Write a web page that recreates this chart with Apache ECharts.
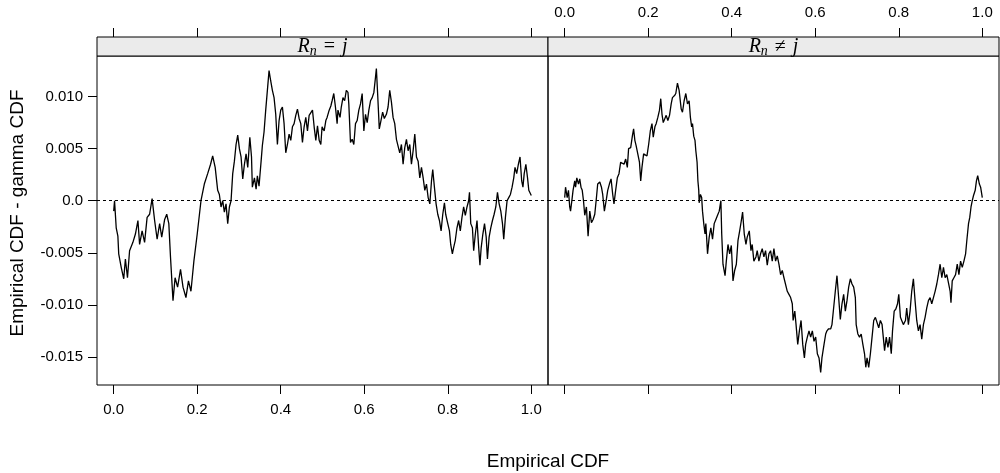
<!DOCTYPE html>
<html>
<head>
<meta charset="utf-8">
<script src="https://cdn.jsdelivr.net/npm/echarts@6/dist/echarts.min.js"></script>
<style>
    html, body {margin: 0; padding: 0; background: #fff;}
    #chart {width: 1000px; height: 473px;}
</style>
</head>
<body>
<div id="chart"></div>
<script>
// panel R_n = j
const eqX = [0.000, 0.002, 0.006, 0.010, 0.012, 0.018, 0.024, 0.028, 0.033, 0.038, 0.046, 0.052, 0.058, 0.062, 0.068,
    0.074, 0.080, 0.086, 0.092, 0.098, 0.104, 0.110, 0.115, 0.122, 0.127, 0.132, 0.136, 0.142, 0.147, 0.153, 0.160,
    0.166, 0.173, 0.179, 0.185, 0.192, 0.200, 0.209, 0.217, 0.225, 0.232, 0.237, 0.243, 0.249, 0.253, 0.257, 0.261,
    0.265, 0.269, 0.273, 0.277, 0.281, 0.285, 0.289, 0.293, 0.297, 0.301, 0.305, 0.309, 0.313, 0.317, 0.321, 0.326,
    0.330, 0.332, 0.337, 0.341, 0.344, 0.348, 0.353, 0.356, 0.360, 0.364, 0.368, 0.372, 0.376, 0.380, 0.384, 0.388,
    0.392, 0.396, 0.400, 0.404, 0.408, 0.412, 0.416, 0.420, 0.424, 0.428, 0.432, 0.436, 0.440, 0.444, 0.448, 0.452,
    0.456, 0.460, 0.464, 0.468, 0.472, 0.476, 0.480, 0.484, 0.488, 0.492, 0.496, 0.499, 0.504, 0.508, 0.511, 0.516,
    0.520, 0.523, 0.527, 0.531, 0.535, 0.537, 0.542, 0.545, 0.549, 0.553, 0.557, 0.561, 0.563, 0.567, 0.571, 0.575,
    0.579, 0.583, 0.587, 0.591, 0.595, 0.599, 0.603, 0.607, 0.611, 0.615, 0.619, 0.623, 0.627, 0.629, 0.632, 0.636,
    0.640, 0.644, 0.648, 0.653, 0.657, 0.661, 0.665, 0.669, 0.673, 0.677, 0.681, 0.685, 0.689, 0.693, 0.697, 0.701,
    0.705, 0.709, 0.713, 0.717, 0.721, 0.725, 0.729, 0.733, 0.737, 0.741, 0.745, 0.749, 0.753, 0.757, 0.761, 0.764,
    0.768, 0.772, 0.776, 0.780, 0.784, 0.788, 0.792, 0.795, 0.800, 0.804, 0.807, 0.811, 0.814, 0.818, 0.822, 0.826,
    0.830, 0.834, 0.838, 0.842, 0.846, 0.850, 0.852, 0.855, 0.859, 0.862, 0.866, 0.870, 0.874, 0.877, 0.880, 0.884,
    0.888, 0.892, 0.895, 0.899, 0.903, 0.907, 0.911, 0.915, 0.919, 0.923, 0.927, 0.931, 0.934, 0.938, 0.942, 0.946,
    0.950, 0.954, 0.958, 0.961, 0.965, 0.969, 0.973, 0.977, 0.980, 0.983, 0.987, 0.991, 0.994, 1.000];
const eqY = [-0.0010, 0.0000, -0.0026, -0.0034, -0.0051, -0.0064, -0.0075, -0.0056, -0.0074, -0.0048, -0.0040, -0.0032,
    -0.0019, -0.0042, -0.0029, -0.0040, -0.0016, -0.0013, 0.0002, -0.0019, -0.0037, -0.0022, -0.0035, -0.0018, -0.0013,
    -0.0022, -0.0054, -0.0096, -0.0074, -0.0083, -0.0066, -0.0083, -0.0093, -0.0077, -0.0087, -0.0058, -0.0032, 0.0000,
    0.0016, 0.0026, 0.0035, 0.0043, 0.0032, 0.0010, 0.0006, -0.0006, 0.0000, -0.0011, -0.0003, -0.0022, -0.0006, 0.0000,
    0.0026, 0.0038, 0.0054, 0.0063, 0.0050, 0.0042, 0.0021, 0.0035, 0.0045, 0.0032, 0.0061, 0.0042, 0.0013, 0.0022,
    0.0011, 0.0024, 0.0014, 0.0038, 0.0053, 0.0066, 0.0087, 0.0106, 0.0125, 0.0115, 0.0106, 0.0099, 0.0083, 0.0054,
    0.0077, 0.0087, 0.0090, 0.0074, 0.0046, 0.0054, 0.0064, 0.0058, 0.0071, 0.0074, 0.0082, 0.0088, 0.0079, 0.0074,
    0.0056, 0.0071, 0.0080, 0.0067, 0.0082, 0.0083, 0.0087, 0.0071, 0.0058, 0.0072, 0.0058, 0.0054, 0.0071, 0.0067,
    0.0077, 0.0080, 0.0087, 0.0091, 0.0096, 0.0103, 0.0090, 0.0074, 0.0087, 0.0080, 0.0090, 0.0099, 0.0096, 0.0106,
    0.0104, 0.0093, 0.0056, 0.0059, 0.0054, 0.0074, 0.0077, 0.0087, 0.0093, 0.0103, 0.0067, 0.0083, 0.0075, 0.0087,
    0.0096, 0.0099, 0.0104, 0.0119, 0.0127, 0.0103, 0.0069, 0.0077, 0.0085, 0.0079, 0.0083, 0.0090, 0.0106, 0.0095,
    0.0080, 0.0074, 0.0059, 0.0058, 0.0046, 0.0054, 0.0035, 0.0051, 0.0059, 0.0048, 0.0054, 0.0035, 0.0048, 0.0064,
    0.0042, 0.0038, 0.0022, 0.0032, 0.0022, 0.0010, 0.0016, 0.0003, -0.0003, 0.0019, 0.0030, 0.0013, -0.0003, -0.0013,
    -0.0019, -0.0029, -0.0013, -0.0002, -0.0013, -0.0022, -0.0029, -0.0042, -0.0051, -0.0045, -0.0038, -0.0026, -0.0019,
    -0.0029, -0.0016, -0.0006, -0.0014, -0.0006, 0.0000, 0.0008, -0.0022, -0.0026, -0.0048, -0.0032, -0.0019, -0.0045,
    -0.0062, -0.0045, -0.0032, -0.0022, -0.0035, -0.0056, -0.0035, -0.0026, -0.0019, -0.0013, -0.0006, 0.0008, -0.0003,
    -0.0010, -0.0022, -0.0037, -0.0016, 0.0000, 0.0003, 0.0006, 0.0013, 0.0022, 0.0032, 0.0026, 0.0035, 0.0042, 0.0019,
    0.0013, 0.0026, 0.0035, 0.0022, 0.0010, 0.0005];

// panel R_n != j
const neqX = [0.000, 0.002, 0.006, 0.009, 0.012, 0.014, 0.018, 0.020, 0.024, 0.026, 0.029, 0.033, 0.036, 0.039, 0.042,
    0.045, 0.048, 0.052, 0.056, 0.060, 0.064, 0.068, 0.072, 0.076, 0.079, 0.084, 0.088, 0.091, 0.095, 0.100, 0.103,
    0.107, 0.111, 0.115, 0.118, 0.122, 0.126, 0.130, 0.134, 0.138, 0.142, 0.146, 0.150, 0.153, 0.158, 0.162, 0.165,
    0.168, 0.171, 0.175, 0.179, 0.182, 0.185, 0.189, 0.193, 0.197, 0.201, 0.205, 0.209, 0.212, 0.216, 0.219, 0.223,
    0.227, 0.230, 0.233, 0.236, 0.239, 0.243, 0.247, 0.251, 0.255, 0.258, 0.263, 0.266, 0.270, 0.274, 0.279, 0.282,
    0.286, 0.290, 0.294, 0.298, 0.301, 0.304, 0.306, 0.309, 0.312, 0.314, 0.317, 0.319, 0.321, 0.322, 0.325, 0.328,
    0.330, 0.333, 0.336, 0.338, 0.342, 0.346, 0.350, 0.354, 0.358, 0.362, 0.366, 0.370, 0.374, 0.376, 0.379, 0.384,
    0.387, 0.391, 0.395, 0.399, 0.403, 0.407, 0.411, 0.415, 0.419, 0.423, 0.426, 0.430, 0.434, 0.437, 0.442, 0.446,
    0.449, 0.453, 0.458, 0.461, 0.465, 0.469, 0.473, 0.477, 0.481, 0.485, 0.489, 0.493, 0.497, 0.501, 0.505, 0.509,
    0.513, 0.517, 0.521, 0.525, 0.529, 0.533, 0.537, 0.541, 0.545, 0.547, 0.551, 0.554, 0.558, 0.562, 0.566, 0.570,
    0.574, 0.577, 0.581, 0.585, 0.589, 0.593, 0.597, 0.601, 0.605, 0.609, 0.613, 0.616, 0.621, 0.625, 0.628, 0.632,
    0.637, 0.640, 0.644, 0.648, 0.652, 0.656, 0.660, 0.664, 0.668, 0.672, 0.676, 0.680, 0.684, 0.688, 0.692, 0.696,
    0.698, 0.702, 0.706, 0.710, 0.714, 0.718, 0.721, 0.724, 0.728, 0.732, 0.736, 0.740, 0.744, 0.748, 0.752, 0.756,
    0.760, 0.764, 0.766, 0.770, 0.774, 0.778, 0.782, 0.785, 0.789, 0.793, 0.797, 0.800, 0.804, 0.807, 0.811, 0.816,
    0.819, 0.823, 0.827, 0.831, 0.835, 0.839, 0.843, 0.847, 0.851, 0.855, 0.859, 0.863, 0.867, 0.871, 0.875, 0.879,
    0.883, 0.887, 0.891, 0.895, 0.899, 0.903, 0.907, 0.911, 0.915, 0.919, 0.923, 0.925, 0.928, 0.932, 0.936, 0.940,
    0.944, 0.948, 0.952, 0.956, 0.960, 0.963, 0.967, 0.970, 0.973, 0.976, 0.979, 0.983, 0.986, 0.989, 0.993, 0.996,
    1.000];
const neqY = [0.0003, 0.0013, 0.0003, 0.0010, -0.0006, -0.0010, 0.0003, 0.0010, 0.0019, 0.0013, 0.0022, 0.0016, 0.0021,
    0.0013, 0.0010, 0.0000, -0.0014, -0.0006, -0.0034, -0.0010, -0.0021, -0.0018, -0.0013, 0.0003, 0.0016, 0.0018,
    0.0013, 0.0006, -0.0010, 0.0002, 0.0010, 0.0016, 0.0021, 0.0006, -0.0003, 0.0010, 0.0022, 0.0026, 0.0037, 0.0038,
    0.0035, 0.0040, 0.0032, 0.0050, 0.0051, 0.0062, 0.0069, 0.0058, 0.0053, 0.0045, 0.0037, 0.0019, 0.0032, 0.0045,
    0.0046, 0.0043, 0.0054, 0.0067, 0.0074, 0.0061, 0.0071, 0.0074, 0.0080, 0.0087, 0.0098, 0.0083, 0.0075, 0.0076,
    0.0082, 0.0077, 0.0082, 0.0093, 0.0099, 0.0101, 0.0103, 0.0113, 0.0106, 0.0088, 0.0085, 0.0096, 0.0103, 0.0093,
    0.0096, 0.0080, 0.0071, 0.0074, 0.0062, 0.0058, 0.0048, 0.0037, 0.0019, 0.0010, -0.0002, 0.0006, 0.0003, -0.0010,
    -0.0022, -0.0032, -0.0022, -0.0051, -0.0035, -0.0026, -0.0037, -0.0022, -0.0018, -0.0014, -0.0010, 0.0000, -0.0032,
    -0.0061, -0.0072, -0.0058, -0.0042, -0.0051, -0.0043, -0.0077, -0.0067, -0.0061, -0.0038, -0.0029, -0.0019, -0.0011,
    -0.0032, -0.0042, -0.0035, -0.0029, -0.0048, -0.0042, -0.0058, -0.0054, -0.0048, -0.0058, -0.0051, -0.0046, -0.0054,
    -0.0048, -0.0062, -0.0051, -0.0048, -0.0058, -0.0046, -0.0058, -0.0053, -0.0061, -0.0071, -0.0067, -0.0074, -0.0075,
    -0.0087, -0.0090, -0.0093, -0.0099, -0.0115, -0.0106, -0.0119, -0.0138, -0.0125, -0.0115, -0.0138, -0.0151, -0.0138,
    -0.0131, -0.0125, -0.0131, -0.0125, -0.0135, -0.0131, -0.0147, -0.0151, -0.0165, -0.0151, -0.0138, -0.0128, -0.0125,
    -0.0123, -0.0123, -0.0119, -0.0103, -0.0087, -0.0072, -0.0093, -0.0114, -0.0099, -0.0090, -0.0106, -0.0096, -0.0083,
    -0.0075, -0.0080, -0.0083, -0.0093, -0.0119, -0.0128, -0.0131, -0.0128, -0.0138, -0.0147, -0.0160, -0.0151, -0.0160,
    -0.0147, -0.0131, -0.0115, -0.0112, -0.0111, -0.0122, -0.0115, -0.0119, -0.0119, -0.0144, -0.0131, -0.0141, -0.0131,
    -0.0147, -0.0125, -0.0106, -0.0104, -0.0099, -0.0090, -0.0112, -0.0115, -0.0119, -0.0115, -0.0103, -0.0119, -0.0106,
    -0.0087, -0.0075, -0.0096, -0.0115, -0.0125, -0.0119, -0.0133, -0.0119, -0.0112, -0.0103, -0.0096, -0.0093, -0.0099,
    -0.0093, -0.0087, -0.0080, -0.0071, -0.0061, -0.0074, -0.0064, -0.0074, -0.0071, -0.0079, -0.0087, -0.0098, -0.0077,
    -0.0074, -0.0071, -0.0061, -0.0071, -0.0058, -0.0064, -0.0058, -0.0051, -0.0038, -0.0022, -0.0016, -0.0006, 0.0000,
    0.0005, 0.0010, 0.0019, 0.0024, 0.0016, 0.0013, 0.0003];

// axes
const xTicks = [0, 0.2, 0.4, 0.6, 0.8, 1];
const yTicks = [-0.015, -0.01, -0.005, 0, 0.005, 0.01];
const yTickLabels = ['-0.015', '-0.010', '-0.005', '0.0', '0.005', '0.010'];
const xRange = [-0.04, 1.04];
const yRange = [-0.0177, 0.0139];

const sansFont = 'Liberation Sans';
const serifFont = 'Liberation Serif';
const panelTop = 56;
const panelHeight = 329;
const panelWidth = 451;
const stripHeight = 19;
const panelLeft = [97, 548];

const zip = (xs, ys) => xs.map((x, i) => [x, ys[i]]);

const xAxisOf = (gridIndex, position, showLabel) => ({
    type: 'value',
    gridIndex: gridIndex,
    position: position,
    offset: position === 'top' ? stripHeight : 0,
    min: xRange[0],
    max: xRange[1],
    axisLine: {show: false, onZero: false},
    splitLine: {show: false},
    axisTick: {show: true, inside: false, customValues: xTicks, length: 9, lineStyle: {color: '#000', width: 1}},
    axisLabel: {
        show: showLabel,
        customValues: xTicks,
        margin: 17,
        color: '#000',
        fontFamily: sansFont,
        fontSize: 15,
        formatter: v => v.toFixed(1)
    }
});

const yFormatter = v => {
    const i = yTicks.findIndex(t => Math.abs(t - v) < 1e-9);
    return i >= 0 ? yTickLabels[i] : '';
};

const zeroLine = {
    silent: true,
    symbol: 'none',
    label: {show: false},
    lineStyle: {color: '#000', type: [3, 3], width: 1},
    data: [{yAxis: 0}]
};

const stripRich = {
    i: {fontFamily: serifFont, fontStyle: 'italic', fontSize: 20, color: '#000'},
    s: {fontFamily: serifFont, fontStyle: 'italic', fontSize: 14, color: '#000', padding: [9, 0, 0, 0]},
    o: {fontFamily: serifFont, fontSize: 20, color: '#000', padding: [0, 7, 0, 7]}
};
const stripLabels = ['{i|R}{s|n}{o|=}{i|j}', '{i|R}{s|n}{o|\u2260}{i|j}'];

const chart = echarts.init(document.getElementById('chart'));

const option = {
    animation: false,
    backgroundColor: '#fff',
    grid: panelLeft.map(left => ({
        left: left,
        top: panelTop,
        width: panelWidth,
        height: panelHeight,
        show: true,
        borderColor: '#000',
        borderWidth: 1,
        backgroundColor: 'transparent'
    })),
    xAxis: [
        xAxisOf(0, 'bottom', true),
        xAxisOf(0, 'top', false),
        xAxisOf(1, 'bottom', false),
        xAxisOf(1, 'top', true)
    ],
    yAxis: [
        {
            type: 'value',
            gridIndex: 0,
            position: 'left',
            min: yRange[0],
            max: yRange[1],
            axisLine: {show: false, onZero: false},
            splitLine: {show: false},
            axisTick: {show: true, inside: false, customValues: yTicks, length: 9, lineStyle: {color: '#000', width: 1}},
            axisLabel: {
                customValues: yTicks,
                margin: 14,
                color: '#000',
                fontFamily: sansFont,
                fontSize: 15,
                formatter: yFormatter
            }
        },
        {
            type: 'value',
            gridIndex: 1,
            position: 'right',
            min: yRange[0],
            max: yRange[1],
            axisLine: {show: false, onZero: false},
            splitLine: {show: false},
            axisTick: {show: false},
            axisLabel: {show: false}
        }
    ],
    series: [
        {
            type: 'line',
            xAxisIndex: 0,
            yAxisIndex: 0,
            data: zip(eqX, eqY),
            showSymbol: false,
            lineStyle: {color: '#000', width: 1.3},
            markLine: zeroLine
        },
        {
            type: 'line',
            xAxisIndex: 2,
            yAxisIndex: 1,
            data: zip(neqX, neqY),
            showSymbol: false,
            lineStyle: {color: '#000', width: 1.3},
            markLine: zeroLine
        }
    ],
    graphic: [
        ...panelLeft.map(left => ({
            type: 'rect',
            shape: {x: left, y: panelTop - stripHeight, width: panelWidth, height: stripHeight},
            style: {fill: '#ebebeb', stroke: '#000', lineWidth: 1},
            z: 10
        })),
        ...panelLeft.map((left, i) => ({
            type: 'text',
            x: left + panelWidth / 2,
            y: panelTop - stripHeight / 2,
            style: {
                text: stripLabels[i],
                rich: stripRich,
                align: 'center',
                verticalAlign: 'middle'
            },
            z: 11
        })),
        {
            type: 'text',
            x: panelLeft[1],
            y: 462,
            style: {
                text: 'Empirical CDF',
                fontFamily: sansFont,
                fontSize: 19,
                fill: '#000',
                align: 'center',
                verticalAlign: 'middle'
            }
        },
        {
            type: 'text',
            x: 18,
            y: 213,
            rotation: Math.PI / 2,
            style: {
                text: 'Empirical CDF - gamma CDF',
                fontFamily: sansFont,
                fontSize: 19,
                fill: '#000',
                align: 'center',
                verticalAlign: 'middle'
            }
        }
    ]
};

chart.setOption(option);
</script>
</body>
</html>
